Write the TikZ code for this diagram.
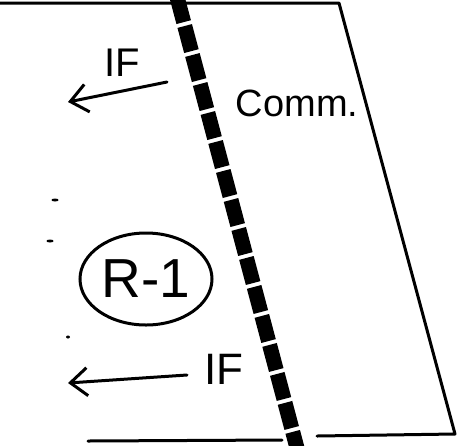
\documentclass[tikz,border=0pt]{standalone}
\usepackage{fontspec}
\setmainfont{Liberation Sans}
\usetikzlibrary{arrows.meta,shapes.geometric}
\begin{document}
\begin{tikzpicture}[x=1pt,y=-1pt,
  ink/.style={line width=3pt,line cap=round,line join=round},
  arr/.style={ink,-{Straight Barb[length=17pt,width=28pt,line width=3pt]}},
  lbl/.style={inner sep=0pt,font=\fontsize{40}{40}\selectfont},
  speck/.style={fill=black}]
\useasboundingbox (0,0) rectangle (457,445);
\fill[white] (0,0) rectangle (457,445);
% frame
\coordinate (tl) at (-2,3);
\coordinate (tr) at (339,3);
\coordinate (br) at (455,434);
\coordinate (bm2) at (317,436);
\coordinate (bm1) at (282,440);
\coordinate (bl) at (88,441);
\draw[ink] (tl) -- (tr) -- (br) -- (bm2);
\draw[ink] (bm1) -- (bl);
% dashed divider
\coordinate (dt) at (177,-3);
\coordinate (db) at (297,448);
\draw[line width=15pt,dash pattern=on 26pt off 4pt] (dt) -- (db);
% labels
\node[lbl] (if1) at (122,63) {IF};
\node[lbl,font=\fontsize{38}{38}\selectfont] (comm) at (297,103) {Comm.};
\node[draw,ellipse,line width=3pt,minimum width=132pt,minimum height=92pt,
      inner sep=0pt,font=\fontsize{55}{55}\selectfont] (r1) at (146,279) {R-1};
\node[lbl,font=\fontsize{44}{44}\selectfont] (if2) at (224,369) {IF};
% arrows
\coordinate (a1s) at (167,82);
\coordinate (a1e) at (68,102);
\draw[arr] (a1s) -- (a1e);
\coordinate (a2s) at (187,375);
\coordinate (a2e) at (68,383);
\draw[arr] (a2s) -- (a2e);
% specks
\fill[speck] (55,200) ellipse (3.5pt and 1.5pt);
\fill[speck] (50,241) ellipse (3.5pt and 1.5pt);
\fill[speck] (68,337) ellipse (2pt and 1.5pt);
\end{tikzpicture}
\end{document}
